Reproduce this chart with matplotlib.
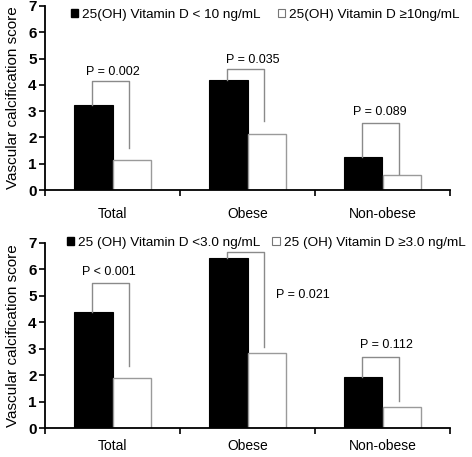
import matplotlib
matplotlib.use("Agg")
import matplotlib.pyplot as plt
from matplotlib.patches import Patch

plt.rcParams['font.family'] = ['Liberation Sans', 'DejaVu Sans']

categories = ["Total", "Obese", "Non-obese"]

# top panel
top_low = [3.22, 4.17, 1.25]
top_high = [1.14, 2.12, 0.56]
top_br_top = [4.14, 4.62, 2.56]
top_br_right = [1.6, 2.63, 0.6]
top_p = ["P = 0.002", "P = 0.035", "P = 0.089"]
top_p_y = [4.5, 4.94, 2.98]
top_p_dx = [0.0, 0.04, -0.02]
top_leg = ["25(OH) Vitamin D < 10 ng/mL", "25(OH) Vitamin D \u226510ng/mL"]

# bottom panel
bot_low = [4.38, 6.42, 1.93]
bot_high = [1.88, 2.84, 0.8]
bot_br_top = [5.47, 6.65, 2.68]
bot_br_right = [2.36, 3.06, 1.01]
bot_p = ["P < 0.001", "P = 0.021", "P = 0.112"]
bot_p_y = [5.9, 5.05, 3.13]
bot_p_dx = [-0.03, 0.41, 0.03]
bot_leg = ["25 (OH) Vitamin D <3.0 ng/mL", "25 (OH) Vitamin D \u22653.0 ng/mL"]

W, H = 472, 457
fig = plt.figure(figsize=(W/100, H/100), dpi=100)

def ax_at(l, t, r, b):
    return fig.add_axes([l/W, 1 - b/H, (r-l)/W, (b-t)/H])

def panel(ax, low, high, brt, brr, ptxt, py, pdx, leg, leg_anchor, colsp, xpad):
    x = list(range(len(categories)))
    w = 0.285
    ax.bar([i - w/2 for i in x], low, width=w, color='black', edgecolor='black', linewidth=0.8)
    ax.bar([i + w/2 for i in x], high, width=w, color='white', edgecolor='#9a9a9a', linewidth=1.0)
    for i in x:
        xl, xr = i - 0.155, i + 0.12
        ax.plot([xl, xl, xr, xr], [low[i], brt[i], brt[i], brr[i]], color='#8a8a8a', lw=1.0)
        ax.text(i + pdx[i], py[i], ptxt[i], ha='center', va='center', fontsize=9)
    ax.set_xlim(-0.5, 2.5)
    ax.set_ylim(0, 7)
    ax.set_yticks(range(8))
    ax.set_yticklabels([str(v) for v in range(8)], fontsize=11, fontweight='bold')
    ax.set_xticks([-0.5, 0.5, 1.5, 2.5])
    ax.set_xticklabels([])
    ax.set_xticks(x, minor=True)
    ax.set_xticklabels(categories, minor=True, fontsize=10)
    ax.tick_params(axis='x', which='minor', length=0, pad=xpad)
    ax.tick_params(axis='x', which='major', length=4, width=1.2, direction='out')
    ax.tick_params(axis='y', length=4, width=1.2, direction='out', pad=2)
    for s in ['top', 'right']:
        ax.spines[s].set_visible(False)
    for s in ['left', 'bottom']:
        ax.spines[s].set_linewidth(1.3)
    ax.set_ylabel("Vascular calcification score", fontsize=11, labelpad=6)
    handles = [Patch(facecolor='black', edgecolor='black'),
               Patch(facecolor='white', edgecolor='#777777', linewidth=0.8)]
    ax.legend(handles, leg, loc='center left', bbox_to_anchor=leg_anchor, ncol=2,
              frameon=False, fontsize=9.7, handlelength=0.55, handleheight=0.55,
              handletextpad=0.28, columnspacing=colsp, borderaxespad=0, borderpad=0)

ax1 = ax_at(45, 6, 450, 190)
panel(ax1, top_low, top_high, top_br_top, top_br_right, top_p, top_p_y, top_p_dx, top_leg,
      (0.063, 0.951), 1.3, 12)
ax2 = ax_at(45, 243, 450, 428)
panel(ax2, bot_low, bot_high, bot_br_top, bot_br_right, bot_p, bot_p_y, bot_p_dx, bot_leg,
      (0.054, 1.0), 0.9, 8)

fig.savefig("out.png", dpi=100)
